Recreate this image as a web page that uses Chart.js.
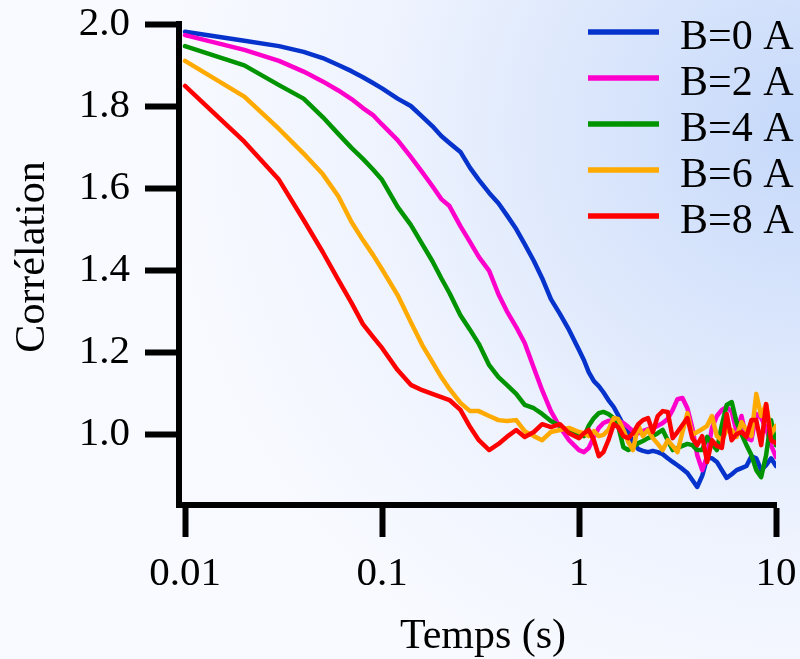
<!DOCTYPE html>
<html lang="fr">
<head>
  <meta charset="UTF-8" />
  <title>Corrélation en fonction du temps</title>
  <script src="https://cdn.jsdelivr.net/npm/chart.js"></script>
  <style>
    html, body {
      margin: 0;
      padding: 0;
    }

    body {
      width: 800px;
      height: 659px;
      overflow: hidden;
      background: radial-gradient(ellipse 80% 95% at 100% 20%, #c6d9fa 0%, #dce7fc 35%, #eef3fe 65%, #f8faff 100%);
    }

    #chart {
      display: block;
    }
  </style>
</head>
<body>

  <canvas id="chart" width="800" height="659"></canvas>

  <script>
    // temps (s), echelle log
    const times = [
      0.01, 0.02, 0.03, 0.04, 0.05, 0.06, 0.07, 0.08, 0.09,
      0.1, 0.12, 0.14, 0.16, 0.18, 0.2, 0.22, 0.25, 0.28, 0.31, 0.35, 0.39, 0.43, 0.48, 0.53, 0.59, 0.65, 0.72, 0.8, 0.89,
      1.0, 1.06, 1.12, 1.19, 1.26, 1.33, 1.41, 1.5, 1.58, 1.68, 1.78, 1.88, 2.0, 2.11, 2.24, 2.37, 2.51, 2.66, 2.82, 2.99,
      3.16, 3.35, 3.55, 3.76, 3.98, 4.22, 4.47, 4.73, 5.01, 5.31, 5.62, 5.96, 6.31, 6.68, 7.08, 7.5, 7.94, 8.41, 8.91, 9.44, 10
    ];

    const corrB0 = [
      1.981, 1.959, 1.946, 1.932, 1.917, 1.900, 1.885, 1.870, 1.856,
      1.843, 1.818, 1.800, 1.774, 1.751, 1.727, 1.710, 1.688, 1.649, 1.620, 1.588, 1.563, 1.534, 1.500, 1.463, 1.422, 1.380, 1.329, 1.293, 1.254,
      1.205, 1.180, 1.151, 1.129, 1.117, 1.102, 1.083, 1.066, 1.046, 1.022, 1.005, 0.980, 0.963, 0.959, 0.956, 0.959, 0.956, 0.951, 0.941, 0.932,
      0.924, 0.915, 0.905, 0.888, 0.871, 0.898, 0.941, 0.941, 0.932, 0.912, 0.893, 0.902, 0.912, 0.917, 0.922, 0.946, 0.941, 0.912, 0.924, 0.941, 0.922
    ];

    const corrB2 = [
      1.973, 1.937, 1.910, 1.884, 1.860, 1.838, 1.817, 1.795, 1.778,
      1.755, 1.717, 1.676, 1.639, 1.605, 1.573, 1.556, 1.507, 1.468, 1.432, 1.398, 1.341, 1.300, 1.261, 1.222, 1.161, 1.107, 1.056, 1.017, 0.985,
      0.961, 0.956, 0.966, 0.993, 1.015, 1.027, 1.032, 1.034, 1.032, 1.027, 1.017, 1.007, 1.002, 1.007, 1.012, 1.015, 1.020, 1.027, 1.037, 1.059,
      1.085, 1.088, 1.063, 1.015, 0.949, 0.912, 0.946, 1.015, 1.044, 1.059, 1.066, 1.054, 1.005, 1.044, 0.990, 0.985, 1.049, 1.039, 1.015, 0.973, 0.944
    ];

    const corrB4 = [
      1.946, 1.899, 1.851, 1.818, 1.773, 1.732, 1.698, 1.671, 1.645,
      1.620, 1.554, 1.510, 1.463, 1.422, 1.380, 1.344, 1.290, 1.254, 1.220, 1.168, 1.139, 1.120, 1.098, 1.071, 1.063, 1.049, 1.032, 1.020, 1.007,
      1.000, 0.995, 1.020, 1.039, 1.051, 1.054, 1.049, 1.039, 1.020, 0.968, 0.961, 0.968, 0.978, 0.983, 0.990, 0.995, 1.002, 1.010, 0.985, 0.961,
      0.966, 0.971, 0.976, 0.973, 0.961, 0.961, 0.993, 0.976, 0.961, 1.022, 1.071, 1.078, 1.029, 1.000, 0.973, 0.949, 0.912, 0.895, 0.949, 1.034, 0.973
    ];

    const corrB6 = [
      1.910, 1.823, 1.744, 1.684, 1.634, 1.580, 1.517, 1.473, 1.437,
      1.402, 1.339, 1.273, 1.217, 1.176, 1.139, 1.110, 1.076, 1.056, 1.056, 1.044, 1.034, 1.032, 1.034, 1.007, 0.995, 0.985, 1.005, 1.010, 1.015,
      1.005, 1.002, 0.995, 1.007, 0.995, 0.998, 1.010, 1.039, 1.037, 1.010, 0.980, 0.961, 1.022, 0.995, 1.010, 0.990, 0.976, 0.961, 0.985, 0.971,
      0.956, 1.005, 1.051, 0.998, 1.005, 1.012, 1.020, 1.044, 0.995, 0.985, 1.010, 1.010, 0.993, 1.029, 1.010, 0.995, 1.098, 1.044, 1.073, 1.000, 1.020
    ];

    const corrB8 = [
      1.849, 1.713, 1.620, 1.522, 1.444, 1.376, 1.320, 1.268, 1.237,
      1.210, 1.156, 1.120, 1.107, 1.098, 1.090, 1.083, 1.059, 1.017, 0.985, 0.961, 0.976, 0.993, 1.010, 0.993, 1.005, 1.024, 1.017, 1.024, 1.002,
      0.990, 1.002, 1.010, 0.985, 0.946, 0.956, 0.985, 1.024, 1.017, 0.995, 0.990, 1.002, 1.024, 1.034, 1.039, 1.005, 1.044, 1.056, 1.054, 0.990,
      1.005, 1.022, 1.039, 0.990, 0.973, 0.995, 0.932, 0.985, 0.971, 0.966, 1.049, 0.985, 1.000, 1.005, 0.993, 1.034, 1.034, 0.973, 1.073, 0.985, 0.978
    ];

    const seriesLabels = ['B=0 A', 'B=2 A', 'B=4 A', 'B=6 A', 'B=8 A'];
    const seriesValues = [corrB0, corrB2, corrB4, corrB6, corrB8];
    const seriesColors = ['#0633cc', '#ff00cc', '#009400', '#ffaa00', '#ff0000'];

    const xTicks = [0.01, 0.1, 1, 10];
    const yTicks = [1.0, 1.2, 1.4, 1.6, 1.8, 2.0];
    const xTitle = 'Temps (s)';
    const yTitle = 'Corrélation';

    const serif = '"Liberation Serif", "Times New Roman", serif';

    // legende + titres d'axes dessines a la main
    const annotations = {
      id: 'annotations',
      afterDraw(chart) {
        const ctx = chart.ctx;
        ctx.save();
        ctx.font = '42px ' + serif;
        ctx.fillStyle = '#000';
        ctx.textBaseline = 'alphabetic';
        ctx.textAlign = 'left';
        chart.data.datasets.forEach((ds, i) => {
          const y = 32 + i * 46;
          ctx.strokeStyle = ds.borderColor;
          ctx.lineWidth = 5.5;
          ctx.beginPath();
          ctx.moveTo(588, y);
          ctx.lineTo(659, y);
          ctx.stroke();
          ctx.fillText(ds.label, 680, y + 16.5);
        });

        ctx.textAlign = 'center';
        ctx.fillText(xTitle, 483, 648);

        ctx.translate(44, 257);
        ctx.rotate(-Math.PI / 2);
        ctx.fillText(yTitle, 0, 0);
        ctx.restore();
      }
    };

    const datasets = seriesValues.map((vals, i) => ({
      label: seriesLabels[i],
      data: times.map((t, j) => ({ x: t, y: vals[j] })),
      borderColor: seriesColors[i],
      borderWidth: 4.5,
      borderJoinStyle: 'round',
      borderCapStyle: 'round',
      pointRadius: 0,
      tension: 0,
      fill: false,
      order: seriesValues.length - i
    }));

    new Chart(document.getElementById('chart'), {
      type: 'line',
      data: { datasets: datasets },
      options: {
        responsive: false,
        animation: false,
        layout: { padding: { left: 0, right: 24, top: 24, bottom: 0 } },
        plugins: {
          legend: { display: false },
          tooltip: { enabled: false }
        },
        scales: {
          x: {
            type: 'logarithmic',
            min: 0.00932,
            max: 10,
            afterBuildTicks: s => { s.ticks = xTicks.map(v => ({ value: v })); },
            afterFit: s => {
              s.height = 154;
              s.paddingLeft = 0;
              s.paddingRight = 0;
            },
            grid: { drawOnChartArea: false, tickLength: 32, tickWidth: 6, tickColor: '#000' },
            border: { color: '#000', width: 6 },
            ticks: {
              color: '#000',
              font: { family: serif, size: 41, lineHeight: 1 },
              padding: 17,
              maxRotation: 0,
              autoSkip: false,
              callback: v => String(v)
            }
          },
          y: {
            type: 'linear',
            min: 0.827,
            max: 2.0,
            afterBuildTicks: s => { s.ticks = yTicks.map(v => ({ value: v })); },
            afterFit: s => {
              s.width = 179;
              s.paddingTop = 0;
              s.paddingBottom = 0;
            },
            grid: { drawOnChartArea: false, tickLength: 34, tickWidth: 6, tickColor: '#000' },
            border: { color: '#000', width: 6 },
            ticks: {
              color: '#000',
              font: { family: serif, size: 41, lineHeight: 1 },
              padding: 15,
              callback: v => v.toFixed(1)
            }
          }
        }
      },
      plugins: [annotations]
    });
  </script>

</body>
</html>
